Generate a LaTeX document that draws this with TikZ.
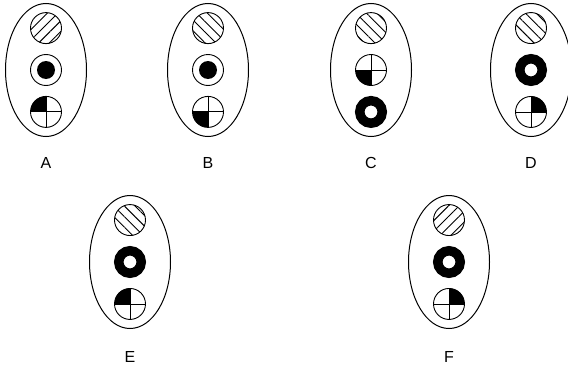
\documentclass[tikz,border=0pt]{standalone}
\usepackage{fontspec}
\setmainfont{Liberation Sans}
\usetikzlibrary{shapes.geometric,patterns.meta,positioning}

\begin{document}
\begin{tikzpicture}[
    x=1pt, y=1pt,
    node distance=10pt,
    cell/.style={ellipse, draw, line width=1pt, minimum width=81pt, minimum height=133pt, inner sep=0pt},
    hatch/.style={circle, draw, line width=0.9pt, minimum size=31pt, inner sep=0pt, pattern={Lines[angle=#1, distance=7.5pt, line width=0.9pt]}},
    dotc/.style={circle, draw, line width=0.9pt, minimum size=31pt, inner sep=0pt, path picture={\fill (path picture bounding box.center) circle (9pt);}},
    quad/.style={circle, draw, line width=0.9pt, minimum size=31pt, inner sep=0pt, path picture={
        \fill (path picture bounding box.center) rectangle (path picture bounding box.#1);
        \draw[line width=0.9pt] (path picture bounding box.north) -- (path picture bounding box.south)
            (path picture bounding box.west) -- (path picture bounding box.east);}},
    ring/.style={circle, draw, line width=9.5pt, minimum size=22.5pt, inner sep=0pt},
    lbl/.style={font=\fontsize{16}{18}\selectfont}
]
\useasboundingbox (0,0) rectangle (568,368);

% A
\node[cell] (ea) at (46, 298) {};
\node[dotc] (a2) at (ea.center) {};
\node[hatch=45, above=of a2] (a1) {};
\node[quad=north west, below=of a2] (a3) {};
\node[lbl] (la) at (46, 205) {A};

% B
\node[cell] (eb) at (208, 298) {};
\node[dotc] (b2) at (eb.center) {};
\node[hatch=-45, above=of b2] (b1) {};
\node[quad=south west, below=of b2] (b3) {};
\node[lbl] (lb) at (208, 205) {B};

% C
\node[cell] (ec) at (371, 298) {};
\node[quad=south west] (c2) at (ec.center) {};
\node[hatch=-45, above=of c2] (c1) {};
\node[ring, below=of c2] (c3) {};
\node[lbl] (lc) at (371, 205) {C};

% D
\node[cell] (ed) at (531, 298) {};
\node[ring] (d2) at (ed.center) {};
\node[hatch=-45, above=of d2] (d1) {};
\node[quad=north east, below=of d2] (d3) {};
\node[lbl] (ld) at (531, 205) {D};

% E
\node[cell] (ee) at (130, 106) {};
\node[ring] (e2) at (ee.center) {};
\node[hatch=-45, above=of e2] (e1) {};
\node[quad=north west, below=of e2] (e3) {};
\node[lbl] (le) at (130, 11) {E};

% F
\node[cell] (ef) at (449, 106) {};
\node[ring] (f2) at (ef.center) {};
\node[hatch=45, above=of f2] (f1) {};
\node[quad=north east, below=of f2] (f3) {};
\node[lbl] (lf) at (449, 11) {F};

\end{tikzpicture}
\end{document}
